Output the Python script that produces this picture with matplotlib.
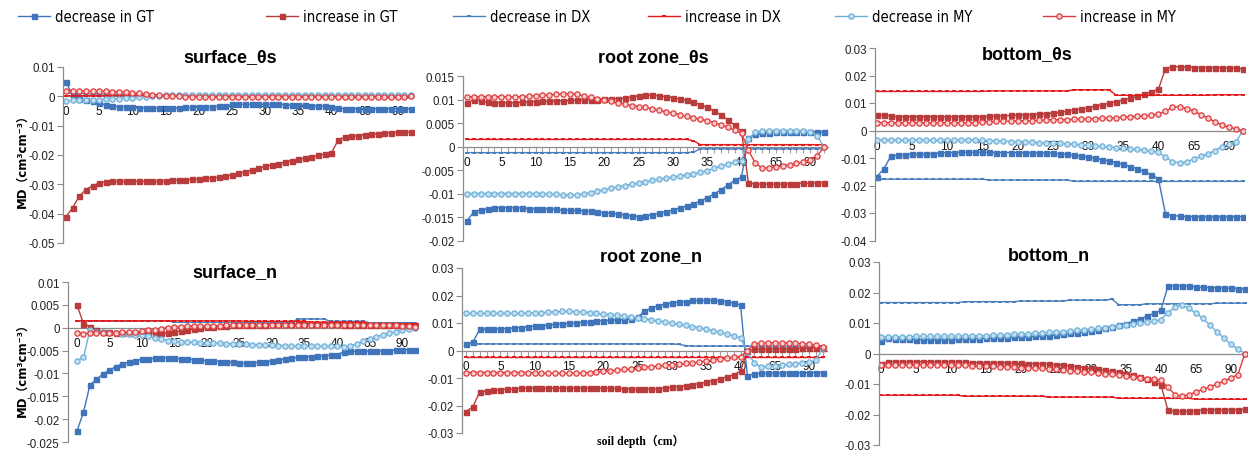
import matplotlib
matplotlib.use('Agg')
import matplotlib.pyplot as plt
from matplotlib.ticker import MultipleLocator, FuncFormatter
from matplotlib import font_manager as fm

# ---------------- data ----------------
depths = list(range(0, 41)) + [45, 50, 55, 60, 65, 70, 75, 80, 85, 90, 95, 100]
xtick_pos = [0, 5, 10, 15, 20, 25, 30, 35, 40, 45, 50]
xtick_labels = ['0', '5', '10', '15', '20', '25', '30', '35', '40', '65', '90']
series_names = ['decrease in GT', 'increase in GT', 'decrease in DX',
                'increase in DX', 'decrease in MY', 'increase in MY']

# surface_θs
st_dec_gt = [0.0048, 0.0005, -0.0008, -0.0013, -0.0016, -0.0024, -0.0029, -0.0033, -0.0035, -0.0036,
             -0.0038, -0.0039, -0.0040, -0.0040, -0.0041, -0.0041, -0.0040, -0.0039, -0.0038, -0.0038,
             -0.0037, -0.0036, -0.0035, -0.0034, -0.0033, -0.0027, -0.0027, -0.0027, -0.0027, -0.0027,
             -0.0027, -0.0027, -0.0027, -0.0028, -0.0030, -0.0030, -0.0031, -0.0032, -0.0033, -0.0034,
             -0.0035, -0.0041, -0.0042, -0.0042, -0.0042, -0.0042, -0.0042, -0.0042, -0.0042, -0.0042,
             -0.0042, -0.0042, -0.0042]
st_inc_gt = [-0.0410, -0.0380, -0.0340, -0.0318, -0.0305, -0.0296, -0.0292, -0.0290, -0.0290, -0.0290,
             -0.0290, -0.0290, -0.0290, -0.0290, -0.0290, -0.0289, -0.0286, -0.0285, -0.0284, -0.0283,
             -0.0281, -0.0280, -0.0278, -0.0276, -0.0273, -0.0268, -0.0263, -0.0257, -0.0251, -0.0245,
             -0.0239, -0.0234, -0.0229, -0.0224, -0.0219, -0.0215, -0.0211, -0.0206, -0.0201, -0.0197,
             -0.0193, -0.0150, -0.0138, -0.0136, -0.0134, -0.0131, -0.0129, -0.0127, -0.0126, -0.0124,
             -0.0123, -0.0123, -0.0122]
st_dec_dx = [0.0010, 0.0010, 0.0009, 0.0009, 0.0008, 0.0008, 0.0008, 0.0007, 0.0007, 0.0006,
             0.0006, 0.0005, 0.0005, 0.0005, 0.0004, 0.0004, 0.0003, 0.0003, 0.0003, 0.0002,
             0.0002, 0.0002, 0.0001, 0.0001, 0.0001, 0.0000, 0.0000, 0.0000, -0.0001, -0.0001,
             -0.0001, -0.0001, -0.0002, -0.0002, -0.0002, -0.0002, -0.0003, -0.0003, -0.0003, -0.0003,
             -0.0003, -0.0004, -0.0004, -0.0004, -0.0004, -0.0004, -0.0004, -0.0004, -0.0005, -0.0005,
             -0.0005, -0.0005, -0.0005]
st_inc_dx = [0.0002, 0.0002, 0.0002, 0.0002, 0.0002, 0.0002, 0.0002, 0.0002, 0.0002, 0.0002,
             0.0002, 0.0002, 0.0002, 0.0002, 0.0002, 0.0002, 0.0002, 0.0002, 0.0002, 0.0002,
             0.0002, 0.0001, 0.0001, 0.0001, 0.0001, 0.0001, 0.0001, 0.0001, 0.0001, 0.0001,
             0.0001, 0.0000, 0.0000, 0.0000, 0.0000, 0.0000, 0.0000, 0.0000, 0.0000, 0.0000,
             0.0000, -0.0001, -0.0001, -0.0001, -0.0001, -0.0001, -0.0001, -0.0001, -0.0001, -0.0001,
             -0.0001, -0.0001, -0.0001]
st_dec_my = [-0.0016, -0.0014, -0.0014, -0.0013, -0.0012, -0.0011, -0.0010, -0.0009, -0.0008, -0.0007,
             -0.0005, -0.0003, -0.0001, 0.0001, 0.0002, 0.0003, 0.0004, 0.0004, 0.0004, 0.0004,
             0.0004, 0.0004, 0.0004, 0.0004, 0.0004, 0.0004, 0.0004, 0.0004, 0.0004, 0.0004,
             0.0004, 0.0004, 0.0004, 0.0004, 0.0004, 0.0004, 0.0004, 0.0004, 0.0004, 0.0004,
             0.0004, 0.0004, 0.0004, 0.0004, 0.0004, 0.0004, 0.0004, 0.0004, 0.0004, 0.0004,
             0.0004, 0.0004, 0.0003]
st_inc_my = [0.0018, 0.0017, 0.0017, 0.0017, 0.0017, 0.0017, 0.0017, 0.0016, 0.0016, 0.0014,
             0.0012, 0.0010, 0.0008, 0.0006, 0.0004, 0.0002, 0.0001, 0.0000, -0.0001, -0.0001,
             -0.0002, -0.0002, -0.0002, -0.0002, -0.0002, -0.0002, -0.0002, -0.0002, -0.0002, -0.0002,
             -0.0002, -0.0002, -0.0002, -0.0002, -0.0002, -0.0002, -0.0002, -0.0002, -0.0002, -0.0002,
             -0.0002, -0.0003, -0.0003, -0.0003, -0.0003, -0.0003, -0.0003, -0.0003, -0.0003, -0.0003,
             -0.0003, -0.0002, 0.0000]

# surface_n
sn_dec_gt = [-0.0226, -0.0185, -0.0125, -0.0113, -0.0101, -0.0093, -0.0085, -0.0079, -0.0075, -0.0072,
             -0.0069, -0.0068, -0.0067, -0.0066, -0.0066, -0.0067, -0.0068, -0.0069, -0.0070, -0.0071,
             -0.0072, -0.0073, -0.0074, -0.0075, -0.0076, -0.0077, -0.0078, -0.0077, -0.0076, -0.0075,
             -0.0073, -0.0071, -0.0069, -0.0067, -0.0065, -0.0064, -0.0063, -0.0062, -0.0061, -0.0060,
             -0.0059, -0.0053, -0.0052, -0.0052, -0.0052, -0.0051, -0.0051, -0.0051, -0.0050, -0.0049,
             -0.0049, -0.0048, -0.0048]
sn_inc_gt = [0.0050, 0.0009, 0.0002, -0.0006, -0.0009, -0.0010, -0.0011, -0.0011, -0.0011, -0.0011,
             -0.0011, -0.0012, -0.0012, -0.0012, -0.0011, -0.0009, -0.0007, -0.0005, -0.0003, -0.0001,
             0.0001, 0.0002, 0.0003, 0.0004, 0.0005, 0.0006, 0.0006, 0.0007, 0.0007, 0.0007,
             0.0008, 0.0008, 0.0008, 0.0008, 0.0008, 0.0008, 0.0008, 0.0008, 0.0008, 0.0008,
             0.0008, 0.0007, 0.0007, 0.0007, 0.0007, 0.0007, 0.0007, 0.0007, 0.0007, 0.0007,
             0.0007, 0.0007, 0.0006]
sn_dec_dx = [0.0015, 0.0015, 0.0015, 0.0015, 0.0015, 0.0015, 0.0015, 0.0015, 0.0015, 0.0015,
             0.0015, 0.0015, 0.0015, 0.0015, 0.0015, 0.0012, 0.0012, 0.0012, 0.0012, 0.0012,
             0.0012, 0.0012, 0.0012, 0.0012, 0.0012, 0.0012, 0.0012, 0.0012, 0.0012, 0.0012,
             0.0012, 0.0012, 0.0012, 0.0012, 0.0019, 0.0019, 0.0019, 0.0019, 0.0019, 0.0014,
             0.0014, 0.0014, 0.0014, 0.0014, 0.0014, 0.0011, 0.0011, 0.0011, 0.0011, 0.0011,
             0.0011, 0.0011, 0.0011]
sn_inc_dx = [0.0015, 0.0015, 0.0015, 0.0015, 0.0015, 0.0015, 0.0015, 0.0015, 0.0015, 0.0015,
             0.0015, 0.0015, 0.0015, 0.0015, 0.0015, 0.0015, 0.0015, 0.0015, 0.0015, 0.0015,
             0.0015, 0.0015, 0.0015, 0.0015, 0.0015, 0.0015, 0.0014, 0.0014, 0.0014, 0.0014,
             0.0014, 0.0014, 0.0014, 0.0014, 0.0014, 0.0014, 0.0012, 0.0012, 0.0012, 0.0012,
             0.0012, 0.0012, 0.0012, 0.0012, 0.0012, 0.0009, 0.0009, 0.0009, 0.0009, 0.0009,
             0.0009, 0.0009, 0.0009]
sn_dec_my = [-0.0072, -0.0065, -0.0005, -0.0009, -0.0010, -0.0011, -0.0012, -0.0013, -0.0014, -0.0015,
             -0.0017, -0.0019, -0.0022, -0.0025, -0.0028, -0.0030, -0.0031, -0.0032, -0.0032, -0.0033,
             -0.0033, -0.0034, -0.0034, -0.0035, -0.0035, -0.0035, -0.0036, -0.0037, -0.0037, -0.0038,
             -0.0038, -0.0039, -0.0039, -0.0040, -0.0040, -0.0041, -0.0041, -0.0041, -0.0041, -0.0041,
             -0.0041, -0.0042, -0.0040, -0.0036, -0.0030, -0.0025, -0.0020, -0.0016, -0.0012, -0.0009,
             -0.0006, -0.0003, 0.0000]
sn_inc_my = [-0.0011, -0.0013, -0.0012, -0.0011, -0.0011, -0.0011, -0.0011, -0.0010, -0.0010, -0.0009,
             -0.0008, -0.0006, -0.0004, -0.0002, 0.0000, 0.0001, 0.0002, 0.0003, 0.0003, 0.0004,
             0.0004, 0.0004, 0.0004, 0.0005, 0.0005, 0.0005, 0.0005, 0.0005, 0.0005, 0.0005,
             0.0005, 0.0005, 0.0005, 0.0005, 0.0005, 0.0005, 0.0005, 0.0005, 0.0005, 0.0005,
             0.0005, 0.0005, 0.0005, 0.0005, 0.0005, 0.0005, 0.0005, 0.0005, 0.0005, 0.0005,
             0.0004, 0.0003, 0.0002]

# root zone_θs
rt_dec_gt = [-0.0158, -0.0139, -0.0135, -0.0133, -0.0131, -0.0130, -0.0130, -0.0130, -0.0131, -0.0132,
             -0.0132, -0.0133, -0.0133, -0.0134, -0.0135, -0.0136, -0.0136, -0.0137, -0.0138, -0.0140,
             -0.0141, -0.0142, -0.0144, -0.0146, -0.0148, -0.0149, -0.0147, -0.0145, -0.0142, -0.0139,
             -0.0135, -0.0131, -0.0127, -0.0122, -0.0116, -0.0109, -0.0101, -0.0092, -0.0082, -0.0072,
             -0.0065, 0.0018, 0.0026, 0.0028, 0.0029, 0.0030, 0.0030, 0.0030, 0.0030, 0.0031,
             0.0031, 0.0031, 0.0031]
rt_inc_gt = [0.0093, 0.0100, 0.0097, 0.0094, 0.0093, 0.0093, 0.0093, 0.0093, 0.0094, 0.0095,
             0.0095, 0.0096, 0.0096, 0.0097, 0.0097, 0.0098, 0.0098, 0.0099, 0.0100, 0.0100,
             0.0101, 0.0101, 0.0102, 0.0103, 0.0105, 0.0108, 0.0109, 0.0109, 0.0108, 0.0106,
             0.0104, 0.0101, 0.0098, 0.0094, 0.0089, 0.0083, 0.0076, 0.0067, 0.0057, 0.0045,
             0.0032, -0.0077, -0.0080, -0.0080, -0.0080, -0.0080, -0.0080, -0.0079, -0.0079, -0.0078,
             -0.0078, -0.0077, -0.0077]
rt_dec_dx = [-0.0013, -0.0013, -0.0013, -0.0013, -0.0013, -0.0013, -0.0013, -0.0013, -0.0013, -0.0013,
             -0.0013, -0.0013, -0.0013, -0.0013, -0.0013, -0.0013, -0.0013, -0.0013, -0.0013, -0.0013,
             -0.0013, -0.0013, -0.0013, -0.0013, -0.0013, -0.0013, -0.0013, -0.0013, -0.0013, -0.0013,
             -0.0013, -0.0013, -0.0013, -0.0012, -0.0005, -0.0005, -0.0005, -0.0005, -0.0005, -0.0005,
             -0.0005, -0.0005, -0.0005, -0.0005, -0.0005, -0.0005, -0.0005, -0.0005, -0.0005, -0.0005,
             -0.0005, -0.0005, -0.0005]
rt_inc_dx = [0.0015, 0.0015, 0.0015, 0.0015, 0.0015, 0.0015, 0.0015, 0.0015, 0.0015, 0.0015,
             0.0015, 0.0015, 0.0015, 0.0015, 0.0015, 0.0015, 0.0015, 0.0015, 0.0015, 0.0015,
             0.0015, 0.0015, 0.0015, 0.0015, 0.0015, 0.0015, 0.0015, 0.0015, 0.0015, 0.0015,
             0.0015, 0.0015, 0.0015, 0.0012, 0.0004, 0.0004, 0.0004, 0.0004, 0.0004, 0.0004,
             0.0004, 0.0004, 0.0004, 0.0004, 0.0004, 0.0004, 0.0004, 0.0004, 0.0004, 0.0004,
             0.0004, 0.0004, 0.0004]
rt_dec_my = [-0.0100, -0.0100, -0.0100, -0.0100, -0.0100, -0.0100, -0.0100, -0.0100, -0.0100, -0.0100,
             -0.0100, -0.0101, -0.0101, -0.0102, -0.0103, -0.0103, -0.0103, -0.0101, -0.0098, -0.0095,
             -0.0092, -0.0089, -0.0086, -0.0083, -0.0080, -0.0078, -0.0075, -0.0072, -0.0070, -0.0068,
             -0.0065, -0.0063, -0.0060, -0.0058, -0.0055, -0.0052, -0.0046, -0.0042, -0.0037, -0.0033,
             -0.0030, 0.0015, 0.0030, 0.0034, 0.0034, 0.0034, 0.0034, 0.0034, 0.0034, 0.0033,
             0.0031, 0.0023, -0.0001]
rt_inc_my = [0.0106, 0.0106, 0.0106, 0.0106, 0.0106, 0.0106, 0.0106, 0.0106, 0.0106, 0.0107,
             0.0108, 0.0109, 0.0110, 0.0111, 0.0112, 0.0112, 0.0111, 0.0108, 0.0105, 0.0102,
             0.0099, 0.0096, 0.0093, 0.0090, 0.0087, 0.0085, 0.0083, 0.0080, 0.0077, 0.0074,
             0.0071, 0.0068, 0.0064, 0.0061, 0.0058, 0.0055, 0.0051, 0.0046, 0.0041, 0.0035,
             0.0028, -0.0008, -0.0035, -0.0046, -0.0045, -0.0043, -0.0041, -0.0039, -0.0036, -0.0033,
             -0.0028, -0.0020, -0.0002]

# root zone_n
rn_dec_gt = [0.0025, 0.0030, 0.0077, 0.0077, 0.0078, 0.0079, 0.0080, 0.0082, 0.0083, 0.0087,
             0.0088, 0.0090, 0.0093, 0.0095, 0.0097, 0.0099, 0.0100, 0.0102, 0.0104, 0.0106,
             0.0108, 0.0110, 0.0111, 0.0112, 0.0114, 0.0122, 0.0142, 0.0155, 0.0163, 0.0168,
             0.0172, 0.0176, 0.0178, 0.0182, 0.0182, 0.0182, 0.0182, 0.0180, 0.0178, 0.0172,
             0.0165, -0.0093, -0.0084, -0.0083, -0.0083, -0.0082, -0.0082, -0.0082, -0.0082, -0.0081,
             -0.0081, -0.0080, -0.0080]
rn_inc_gt = [-0.0222, -0.0205, -0.0150, -0.0148, -0.0145, -0.0143, -0.0141, -0.0140, -0.0138, -0.0137,
             -0.0137, -0.0137, -0.0137, -0.0137, -0.0137, -0.0137, -0.0137, -0.0137, -0.0137, -0.0137,
             -0.0137, -0.0138, -0.0138, -0.0139, -0.0140, -0.0141, -0.0141, -0.0140, -0.0139, -0.0137,
             -0.0134, -0.0131, -0.0128, -0.0124, -0.0120, -0.0115, -0.0110, -0.0103, -0.0096, -0.0088,
             -0.0075, 0.0000, 0.0005, 0.0005, 0.0005, 0.0006, 0.0006, 0.0006, 0.0007, 0.0008,
             0.0009, 0.0010, 0.0008]
rn_dec_dx = [0.0024, 0.0024, 0.0024, 0.0024, 0.0024, 0.0024, 0.0024, 0.0024, 0.0024, 0.0024,
             0.0024, 0.0024, 0.0024, 0.0024, 0.0024, 0.0024, 0.0024, 0.0024, 0.0024, 0.0024,
             0.0024, 0.0024, 0.0024, 0.0024, 0.0024, 0.0024, 0.0024, 0.0024, 0.0024, 0.0024,
             0.0024, 0.0022, 0.0018, 0.0016, 0.0016, 0.0016, 0.0016, 0.0016, 0.0016, 0.0016,
             0.0016, 0.0016, 0.0016, 0.0016, 0.0016, 0.0016, 0.0016, 0.0016, 0.0016, 0.0016,
             0.0016, 0.0016, 0.0016]
rn_inc_dx = [-0.0022, -0.0022, -0.0022, -0.0022, -0.0022, -0.0022, -0.0022, -0.0022, -0.0022, -0.0022,
             -0.0022, -0.0022, -0.0022, -0.0022, -0.0022, -0.0022, -0.0022, -0.0022, -0.0022, -0.0022,
             -0.0022, -0.0022, -0.0022, -0.0022, -0.0022, -0.0022, -0.0022, -0.0022, -0.0022, -0.0022,
             -0.0022, -0.0022, -0.0022, -0.0022, -0.0022, -0.0022, -0.0022, -0.0022, -0.0022, -0.0022,
             -0.0022, -0.0022, -0.0022, -0.0022, -0.0022, -0.0022, -0.0022, -0.0022, -0.0022, -0.0022,
             -0.0022, -0.0022, -0.0022]
rn_dec_my = [0.0135, 0.0135, 0.0135, 0.0135, 0.0135, 0.0135, 0.0135, 0.0135, 0.0135, 0.0136,
             0.0137, 0.0138, 0.0139, 0.0141, 0.0142, 0.0142, 0.0141, 0.0140, 0.0138, 0.0135,
             0.0132, 0.0130, 0.0129, 0.0126, 0.0122, 0.0120, 0.0116, 0.0112, 0.0108, 0.0104,
             0.0100, 0.0095, 0.0091, 0.0087, 0.0083, 0.0078, 0.0072, 0.0066, 0.0060, 0.0054,
             0.0046, -0.0005, -0.0046, -0.0060, -0.0058, -0.0055, -0.0052, -0.0050, -0.0048, -0.0045,
             -0.0043, -0.0035, 0.0010]
rn_inc_my = [-0.0080, -0.0080, -0.0080, -0.0080, -0.0080, -0.0080, -0.0080, -0.0080, -0.0080, -0.0080,
             -0.0081, -0.0083, -0.0083, -0.0083, -0.0083, -0.0083, -0.0083, -0.0082, -0.0080, -0.0078,
             -0.0075, -0.0073, -0.0071, -0.0069, -0.0067, -0.0064, -0.0061, -0.0059, -0.0057, -0.0054,
             -0.0052, -0.0050, -0.0047, -0.0045, -0.0042, -0.0038, -0.0034, -0.0031, -0.0028, -0.0025,
             -0.0022, 0.0000, 0.0023, 0.0027, 0.0028, 0.0028, 0.0028, 0.0027, 0.0026, 0.0025,
             0.0023, 0.0020, 0.0014]

# bottom_θs
bt_dec_gt = [-0.0168, -0.0140, -0.0093, -0.0090, -0.0088, -0.0086, -0.0086, -0.0085, -0.0084, -0.0082,
             -0.0080, -0.0080, -0.0079, -0.0079, -0.0079, -0.0079, -0.0079, -0.0080, -0.0080, -0.0080,
             -0.0080, -0.0080, -0.0081, -0.0081, -0.0081, -0.0082, -0.0085, -0.0087, -0.0090, -0.0093,
             -0.0097, -0.0101, -0.0106, -0.0111, -0.0117, -0.0123, -0.0131, -0.0139, -0.0149, -0.0161,
             -0.0175, -0.0303, -0.0310, -0.0311, -0.0313, -0.0313, -0.0313, -0.0313, -0.0313, -0.0313,
             -0.0313, -0.0313, -0.0313]
bt_inc_gt = [0.0055, 0.0057, 0.0053, 0.0050, 0.0050, 0.0050, 0.0050, 0.0050, 0.0050, 0.0050,
             0.0050, 0.0050, 0.0050, 0.0050, 0.0050, 0.0050, 0.0052, 0.0052, 0.0053, 0.0055,
             0.0056, 0.0057, 0.0058, 0.0059, 0.0061, 0.0063, 0.0066, 0.0070, 0.0074, 0.0078,
             0.0083, 0.0088, 0.0093, 0.0099, 0.0105, 0.0111, 0.0117, 0.0124, 0.0131, 0.0141,
             0.0150, 0.0225, 0.0232, 0.0232, 0.0232, 0.0229, 0.0229, 0.0229, 0.0229, 0.0228,
             0.0228, 0.0227, 0.0224]
bt_dec_dx = [-0.0177, -0.0177, -0.0177, -0.0177, -0.0177, -0.0177, -0.0177, -0.0177, -0.0177, -0.0177,
             -0.0177, -0.0177, -0.0177, -0.0177, -0.0177, -0.0177, -0.0180, -0.0180, -0.0180, -0.0180,
             -0.0180, -0.0180, -0.0180, -0.0180, -0.0180, -0.0180, -0.0180, -0.0180, -0.0185, -0.0185,
             -0.0185, -0.0185, -0.0185, -0.0185, -0.0185, -0.0185, -0.0185, -0.0185, -0.0185, -0.0185,
             -0.0185, -0.0185, -0.0185, -0.0185, -0.0185, -0.0185, -0.0185, -0.0185, -0.0185, -0.0185,
             -0.0185, -0.0185, -0.0185]
bt_inc_dx = [0.0142, 0.0142, 0.0142, 0.0142, 0.0142, 0.0142, 0.0142, 0.0142, 0.0142, 0.0142,
             0.0142, 0.0142, 0.0142, 0.0142, 0.0142, 0.0142, 0.0144, 0.0144, 0.0144, 0.0144,
             0.0144, 0.0144, 0.0144, 0.0144, 0.0144, 0.0144, 0.0144, 0.0144, 0.0148, 0.0148,
             0.0148, 0.0148, 0.0148, 0.0148, 0.0128, 0.0128, 0.0128, 0.0128, 0.0128, 0.0128,
             0.0128, 0.0128, 0.0128, 0.0128, 0.0128, 0.0128, 0.0128, 0.0128, 0.0130, 0.0130,
             0.0130, 0.0130, 0.0130]
bt_dec_my = [-0.0035, -0.0035, -0.0035, -0.0035, -0.0035, -0.0035, -0.0035, -0.0035, -0.0035, -0.0035,
             -0.0035, -0.0035, -0.0035, -0.0035, -0.0035, -0.0035, -0.0037, -0.0038, -0.0039, -0.0040,
             -0.0041, -0.0042, -0.0043, -0.0044, -0.0045, -0.0046, -0.0047, -0.0048, -0.0050, -0.0052,
             -0.0054, -0.0056, -0.0058, -0.0060, -0.0062, -0.0064, -0.0066, -0.0069, -0.0072, -0.0075,
             -0.0079, -0.0097, -0.0113, -0.0118, -0.0115, -0.0103, -0.0094, -0.0085, -0.0073, -0.0060,
             -0.0049, -0.0043, 0.0000]
bt_inc_my = [0.0028, 0.0028, 0.0028, 0.0028, 0.0028, 0.0028, 0.0028, 0.0028, 0.0028, 0.0028,
             0.0028, 0.0028, 0.0028, 0.0028, 0.0028, 0.0031, 0.0032, 0.0033, 0.0034, 0.0034,
             0.0035, 0.0036, 0.0036, 0.0037, 0.0038, 0.0039, 0.0040, 0.0040, 0.0041, 0.0042,
             0.0042, 0.0043, 0.0044, 0.0045, 0.0046, 0.0048, 0.0050, 0.0052, 0.0054, 0.0055,
             0.0060, 0.0070, 0.0085, 0.0086, 0.0080, 0.0072, 0.0058, 0.0046, 0.0032, 0.0021,
             0.0012, 0.0006, 0.0000]

# bottom_n
bn_dec_gt = [0.0041, 0.0050, 0.0048, 0.0048, 0.0047, 0.0045, 0.0045, 0.0045, 0.0045, 0.0045,
             0.0045, 0.0046, 0.0047, 0.0048, 0.0049, 0.0050, 0.0050, 0.0051, 0.0052, 0.0053,
             0.0054, 0.0055, 0.0056, 0.0057, 0.0059, 0.0061, 0.0063, 0.0066, 0.0068, 0.0071,
             0.0074, 0.0078, 0.0082, 0.0087, 0.0092, 0.0098, 0.0105, 0.0113, 0.0122, 0.0132,
             0.0142, 0.0220, 0.0222, 0.0222, 0.0220, 0.0219, 0.0217, 0.0216, 0.0215, 0.0215,
             0.0214, 0.0213, 0.0212]
bn_inc_gt = [-0.0035, -0.0027, -0.0027, -0.0027, -0.0027, -0.0027, -0.0027, -0.0027, -0.0027, -0.0027,
             -0.0027, -0.0027, -0.0029, -0.0030, -0.0030, -0.0030, -0.0030, -0.0030, -0.0031, -0.0032,
             -0.0032, -0.0033, -0.0033, -0.0034, -0.0035, -0.0037, -0.0039, -0.0041, -0.0043, -0.0046,
             -0.0049, -0.0052, -0.0055, -0.0058, -0.0062, -0.0066, -0.0071, -0.0077, -0.0084, -0.0094,
             -0.0102, -0.0185, -0.0190, -0.0190, -0.0190, -0.0187, -0.0186, -0.0185, -0.0185, -0.0185,
             -0.0185, -0.0184, -0.0183]
bn_dec_dx = [0.0167, 0.0167, 0.0167, 0.0167, 0.0167, 0.0167, 0.0167, 0.0167, 0.0167, 0.0167,
             0.0167, 0.0167, 0.0170, 0.0170, 0.0170, 0.0170, 0.0170, 0.0170, 0.0170, 0.0170,
             0.0172, 0.0172, 0.0172, 0.0172, 0.0172, 0.0172, 0.0172, 0.0175, 0.0175, 0.0175,
             0.0175, 0.0175, 0.0175, 0.0178, 0.0160, 0.0160, 0.0160, 0.0160, 0.0163, 0.0163,
             0.0163, 0.0163, 0.0163, 0.0163, 0.0163, 0.0163, 0.0163, 0.0163, 0.0165, 0.0165,
             0.0165, 0.0165, 0.0165]
bn_inc_dx = [-0.0137, -0.0137, -0.0137, -0.0137, -0.0137, -0.0137, -0.0137, -0.0137, -0.0137, -0.0137,
             -0.0137, -0.0137, -0.0140, -0.0140, -0.0140, -0.0140, -0.0140, -0.0140, -0.0140, -0.0140,
             -0.0140, -0.0140, -0.0140, -0.0140, -0.0143, -0.0143, -0.0143, -0.0143, -0.0143, -0.0143,
             -0.0143, -0.0143, -0.0143, -0.0143, -0.0147, -0.0147, -0.0147, -0.0147, -0.0147, -0.0147,
             -0.0147, -0.0147, -0.0147, -0.0147, -0.0147, -0.0150, -0.0150, -0.0150, -0.0150, -0.0150,
             -0.0150, -0.0150, -0.0150]
bn_dec_my = [0.0055, 0.0055, 0.0055, 0.0055, 0.0055, 0.0056, 0.0056, 0.0056, 0.0056, 0.0056,
             0.0056, 0.0057, 0.0057, 0.0058, 0.0058, 0.0059, 0.0060, 0.0061, 0.0062, 0.0063,
             0.0064, 0.0065, 0.0066, 0.0068, 0.0069, 0.0071, 0.0072, 0.0074, 0.0076, 0.0078,
             0.0080, 0.0082, 0.0085, 0.0088, 0.0091, 0.0094, 0.0097, 0.0100, 0.0103, 0.0106,
             0.0111, 0.0134, 0.0151, 0.0159, 0.0148, 0.0132, 0.0115, 0.0093, 0.0071, 0.0051,
             0.0030, 0.0015, 0.0000]
bn_inc_my = [-0.0037, -0.0037, -0.0037, -0.0037, -0.0037, -0.0037, -0.0037, -0.0037, -0.0038, -0.0038,
             -0.0038, -0.0039, -0.0039, -0.0040, -0.0040, -0.0041, -0.0042, -0.0043, -0.0044, -0.0045,
             -0.0046, -0.0047, -0.0048, -0.0049, -0.0050, -0.0052, -0.0054, -0.0056, -0.0058, -0.0060,
             -0.0062, -0.0064, -0.0066, -0.0068, -0.0070, -0.0073, -0.0076, -0.0079, -0.0082, -0.0085,
             -0.0088, -0.0110, -0.0135, -0.0140, -0.0135, -0.0126, -0.0118, -0.0110, -0.0100, -0.0090,
             -0.0080, -0.0069, 0.0000]

# ---------------- styling ----------------
names = {f.name for f in fm.fontManager.ttflist}
sans = 'Liberation Sans' if 'Liberation Sans' in names else 'DejaVu Sans'
if 'Liberation Sans Narrow' in names:
    legend_prop = {'family': 'Liberation Sans Narrow', 'size': 11.5}
else:
    legend_prop = {'family': 'DejaVu Sans', 'stretch': 'condensed', 'size': 10.5}

C_DEC_GT = '#3F74BA'
C_INC_GT = '#B93B3B'
C_DEC_DX = '#4A7EBB'
C_INC_DX = '#E3191C'
C_DEC_MY = '#6FB0D8'
C_INC_MY = '#E03A3C'

styles = [
    dict(color=C_DEC_GT, marker='s', ms=3.6, lw=1.0, mfc=C_DEC_GT, mec=C_DEC_GT),
    dict(color=C_INC_GT, marker='s', ms=3.6, lw=1.0, mfc=C_INC_GT, mec=C_INC_GT),
    dict(color=C_DEC_DX, marker='_', ms=3.0, mew=1.4, lw=1.0),
    dict(color=C_INC_DX, marker='_', ms=3.0, mew=1.4, lw=1.0),
    dict(color=C_DEC_MY, marker='o', ms=3.8, lw=1.0, mfc='#C4E0F2', mec=C_DEC_MY, mew=0.9),
    dict(color=C_INC_MY, marker='o', ms=3.8, lw=1.0, mfc='#F8D0D0', mec=C_INC_MY, mew=0.9),
]

W, H = 1252, 452
fig = plt.figure(figsize=(W / 100, H / 100), dpi=100)
fig.patch.set_facecolor('white')

panels = [
    # x0, x1, ytop, ybot, xlim, ylim, step, title, (tx, ty), x tick length, data
    (63, 414, 68, 244, (-0.45, 52.45), (-0.05, 0.01), 0.01, 'surface_θs', (230, 58), 0,
     [st_dec_gt, st_inc_gt, st_dec_dx, st_inc_dx, st_dec_my, st_inc_my]),
    (68, 418, 283, 443, (-1.38, 52.46), (-0.025, 0.01), 0.005, 'surface_n', (235, 273), 0,
     [sn_dec_gt, sn_inc_gt, sn_dec_dx, sn_inc_dx, sn_dec_my, sn_inc_my]),
    (463, 828, 77, 241.5, (-0.58, 52.6), (-0.02, 0.015), 0.005, 'root zone_θs', (653, 58), 4.5,
     [rt_dec_gt, rt_inc_gt, rt_dec_dx, rt_inc_dx, rt_dec_my, rt_inc_my]),
    (462, 827, 269, 434, (-0.58, 52.6), (-0.03, 0.03), 0.01, 'root zone_n', (651, 258), 4.5,
     [rn_dec_gt, rn_inc_gt, rn_dec_dx, rn_inc_dx, rn_dec_my, rn_inc_my]),
    (875, 1245, 49, 241.5, (-0.25, 52.3), (-0.04, 0.03), 0.01, 'bottom_θs', (1027, 55), 0,
     [bt_dec_gt, bt_inc_gt, bt_dec_dx, bt_inc_dx, bt_dec_my, bt_inc_my]),
    (879, 1247, 263, 446, (-0.25, 52.3), (-0.03, 0.03), 0.01, 'bottom_n', (1049, 256), 0,
     [bn_dec_gt, bn_inc_gt, bn_dec_dx, bn_inc_dx, bn_dec_my, bn_inc_my]),
]


def fmt(v, pos):
    r = round(v, 4)
    if abs(r) < 1e-9:
        return '0'
    return f'{r:g}'


x_idx = list(range(len(depths)))
handles = None
for (x0, x1, yt, yb, xl, yl, step, title, (tx, ty), tlen, data) in panels:
    ax = fig.add_axes([x0 / W, 1 - yb / H, (x1 - x0) / W, (yb - yt) / H])
    ax.patch.set_alpha(0)
    lines = []
    for vals, st, nm in zip(data, styles, series_names):
        ln, = ax.plot(x_idx, vals, label=nm, **st)
        lines.append(ln)
    handles = lines
    ax.set_xlim(*xl)
    ax.set_ylim(*yl)
    for s in ['top', 'right']:
        ax.spines[s].set_visible(False)
    ax.spines['bottom'].set_position(('data', 0))
    ax.spines['bottom'].set_color('#8c8c8c')
    ax.spines['left'].set_color('#8c8c8c')
    ax.spines['bottom'].set_linewidth(0.9)
    ax.spines['left'].set_linewidth(0.9)
    ax.spines['bottom'].set_zorder(0.5)
    ax.set_xticks(x_idx, minor=True)
    ax.set_xticks(xtick_pos)
    ax.set_xticklabels(xtick_labels)
    ax.tick_params(axis='x', which='both', length=tlen, color='#a0a0a0', width=0.8,
                   pad=2 + (4.5 - tlen), labelsize=8.5, labelcolor='#111111')
    ax.yaxis.set_major_locator(MultipleLocator(step))
    ax.yaxis.set_major_formatter(FuncFormatter(fmt))
    ax.tick_params(axis='y', length=4, color='#8c8c8c', width=0.8, pad=2,
                   labelsize=8.3, labelcolor='#222222')
    for lab in ax.get_xticklabels() + ax.get_yticklabels():
        lab.set_family(sans)
    fig.text(tx / W, 1 - ty / H, title, ha='center', va='center', fontsize=13,
             fontweight='bold', family=sans, color='black')

# y labels
for yc in (158, 367):
    fig.text(22 / W, 1 - yc / H, 'MD（cm³cm⁻³）', rotation=90, ha='center', va='center',
             fontsize=8.5, fontweight='bold', family=['DejaVu Sans', 'Noto Sans CJK SC'])

# x label
fig.text(641 / W, 1 - 441 / H, 'soil depth（cm）', ha='center', va='center', fontsize=8.5,
         fontweight='bold', family=['Liberation Serif', 'Noto Sans CJK SC'])

# legend (one entry each so positions match)
leg_x = [18, 266, 453, 648, 835, 1043]
for h, nm, lx in zip(handles, series_names, leg_x):
    fig.legend([h], [nm], loc='center left', bbox_to_anchor=(lx / W, 1 - 18 / H),
               frameon=False, handlelength=2.2, handletextpad=0.35, borderpad=0,
               borderaxespad=0, prop=legend_prop)

fig.savefig('out.png', dpi=100, facecolor='white')
